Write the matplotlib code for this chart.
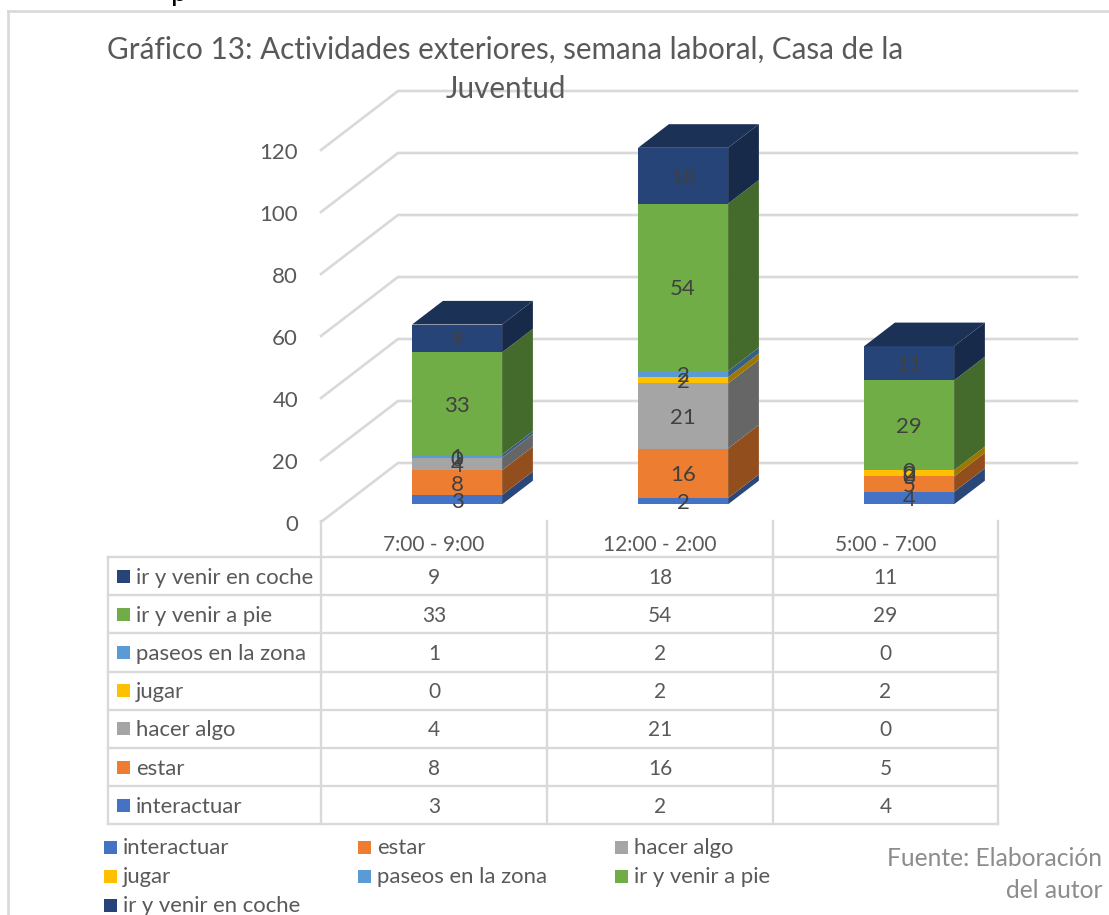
import matplotlib
matplotlib.use("Agg")
import matplotlib.pyplot as plt
from matplotlib.colors import to_rgb
from matplotlib.patches import Polygon, Rectangle
from matplotlib.transforms import ScaledTranslation

# --- DATA ---
categories = ["7:00 - 9:00", "12:00 - 2:00", "5:00 - 7:00"]
series_names = ["interactuar", "estar", "hacer algo", "jugar", "paseos en la zona",
                "ir y venir a pie", "ir y venir en coche"]
interactuar = [3, 2, 4]
estar = [8, 16, 5]
hacer_algo = [4, 21, 0]
jugar = [0, 2, 2]
paseos = [1, 2, 0]
a_pie = [33, 54, 29]
en_coche = [9, 18, 11]
y_ticks = [0, 20, 40, 60, 80, 100, 120]
title_lines = ["Gráfico 13: Actividades exteriores, semana laboral, Casa de la", "Juventud"]
source_lines = ["Fuente: Elaboración", "del autor"]

series_values = [interactuar, estar, hacer_algo, jugar, paseos, a_pie, en_coche]
colors = ["#4472C4", "#ED7D31", "#A5A5A5", "#FFC000", "#5B9BD5", "#70AD47", "#264478"]

# --- STYLE ---
plt.rcParams["font.family"] = ["Lato", "DejaVu Sans"]
GRID = "#D9D9D9"
TEXT = "#595959"
LABEL = "#404040"
W, H = 1109, 915

fig = plt.figure(figsize=(W / 100, H / 100), dpi=100)

# overlay in pixels for the frame, table and legend
ov = fig.add_axes([0, 0, 1, 1])
ov.set_xlim(0, W)
ov.set_ylim(H, 0)
ov.axis("off")
ov.set_zorder(5)

# chart axes: front plane of the 3D box, 226 px per category, 3.1 px per unit
left, right, base, top = 321, 1077, 522, 91
ax = fig.add_axes([left / W, 1 - base / H, (right - left) / W, (base - top) / H])
ax.patch.set_alpha(0)
ax.set_xlim(-0.5, -0.5 + (right - left) / 226)
ax.set_ylim(0, (base - top) / 3.1)
for s in ax.spines.values():
    s.set_visible(False)

floor_dx = 77 / 226    # depth of the floor, in category units
floor_dy = 59 / 3.1    # and in value units


def proj(x, v, d):
    return x + d * floor_dx, v + d * floor_dy


# --- GRID ---
for v in y_ticks:
    p0 = proj(-0.5, v, 0)
    p1 = proj(-0.5, v, 1)
    p2 = (ax.get_xlim()[1], p1[1])
    ax.plot([p0[0], p1[0], p2[0]], [p0[1], p1[1], p2[1]], color=GRID, lw=1.9,
            solid_joinstyle="miter", clip_on=False, zorder=1)

ax.set_yticks(y_ticks)
ax.set_xticks(range(len(categories)))
ax.set_xticklabels(categories)
ax.tick_params(axis="y", length=0, pad=16.5, labelsize=16, labelcolor=TEXT)
ax.tick_params(axis="x", length=0, pad=9.5, labelsize=15, labelcolor=TEXT)
nudge = ScaledTranslation(0, -0.5 / 72, fig.dpi_scale_trans)
for t in ax.get_yticklabels():
    t.set_transform(t.get_transform() + nudge)

# --- BARS ---
bar_w = 90 / 226
d0, d1 = 0.30, 0.70
for i in range(len(categories)):
    bottom = 0
    for k, vals in enumerate(series_values):
        v = vals[i]
        c = to_rgb(colors[k])
        xa = i - bar_w / 2
        xb = i + bar_w / 2
        side = tuple(ch * 0.62 for ch in c)
        top_c = tuple(ch * 0.72 for ch in c)
        ax.add_patch(Polygon([proj(xb, bottom, d0), proj(xb, bottom, d1),
                              proj(xb, bottom + v, d1), proj(xb, bottom + v, d0)],
                             closed=True, fc=side, ec="none", zorder=3 + k * 0.01, clip_on=False))
        ax.add_patch(Polygon([proj(xa, bottom, d0), proj(xb, bottom, d0),
                              proj(xb, bottom + v, d0), proj(xa, bottom + v, d0)],
                             closed=True, fc=c, ec="none", zorder=3 + k * 0.01, clip_on=False))
        if k == len(series_values) - 1:
            ax.add_patch(Polygon([proj(xa, bottom + v, d0), proj(xb, bottom + v, d0),
                                  proj(xb, bottom + v, d1), proj(xa, bottom + v, d1)],
                                 closed=True, fc=top_c, ec="none", zorder=3.5, clip_on=False))
        bottom += v

    # data labels go on top of all the boxes
    bottom = 0
    for k, vals in enumerate(series_values):
        v = vals[i]
        px, py = proj(i, bottom + v / 2, d0)
        ax.text(px, py, str(v), ha="center", va="center_baseline", fontsize=16, color=LABEL, zorder=5)
        bottom += v

# --- FRAME AND TITLE ---
ov.plot([8, 8], [H, 11], color=GRID, lw=1.9)
ov.plot([8, W], [11, 11], color=GRID, lw=1.9)
ov.text(505.5, 50, title_lines[0], ha="center", va="center", fontsize=21.35, color=TEXT)
ov.text(506, 89, title_lines[1], ha="center", va="center", fontsize=21.35, color=TEXT)
ov.text(179, -7, "p", ha="center", va="center", fontsize=21, color="black")

# --- TABLE ---
col_x = [108, 321, 547, 773, 998]
row_y = [557 + 38.2 * r for r in range(8)]
for y in row_y:
    ov.plot([col_x[0], col_x[-1]], [y, y], color=GRID, lw=1.7)
ov.plot([col_x[0], col_x[0]], [row_y[0], row_y[-1]], color=GRID, lw=1.7)
for x in col_x[1:]:
    ov.plot([x, x], [521, row_y[-1]], color=GRID, lw=1.7)

n = len(series_names)
for r in range(n):
    k = n - 1 - r
    yc = (row_y[r] + row_y[r + 1]) / 2
    ov.add_patch(Rectangle((117, yc - 6.5), 13, 13, fc=colors[k], ec="none"))
    ov.text(136, yc + 1.5, series_names[k], ha="left", va="center", fontsize=15.9, color=TEXT)
    for i in range(len(categories)):
        xc = (col_x[i + 1] + col_x[i + 2]) / 2
        ov.text(xc, yc + 1.5, str(series_values[k][i]), ha="center", va="center", fontsize=15, color=TEXT)

# --- LEGEND ---
leg_x = [104, 358, 615]
leg_y = [847, 876, 905]
for k, name in enumerate(series_names):
    x = leg_x[k % 3]
    y = leg_y[k // 3]
    ov.add_patch(Rectangle((x, y - 6.5), 13, 13, fc=colors[k], ec="none"))
    ov.text(x + 19, y + 1, name, ha="left", va="center", fontsize=15.9, color=TEXT)

# --- SOURCE NOTE ---
ov.text(1102, 859, source_lines[0], ha="right", va="center", fontsize=17.75, color="#8C8C8C")
ov.text(1102, 891, source_lines[1], ha="right", va="center", fontsize=17.75, color="#8C8C8C")

fig.savefig("out.png", dpi=100)
